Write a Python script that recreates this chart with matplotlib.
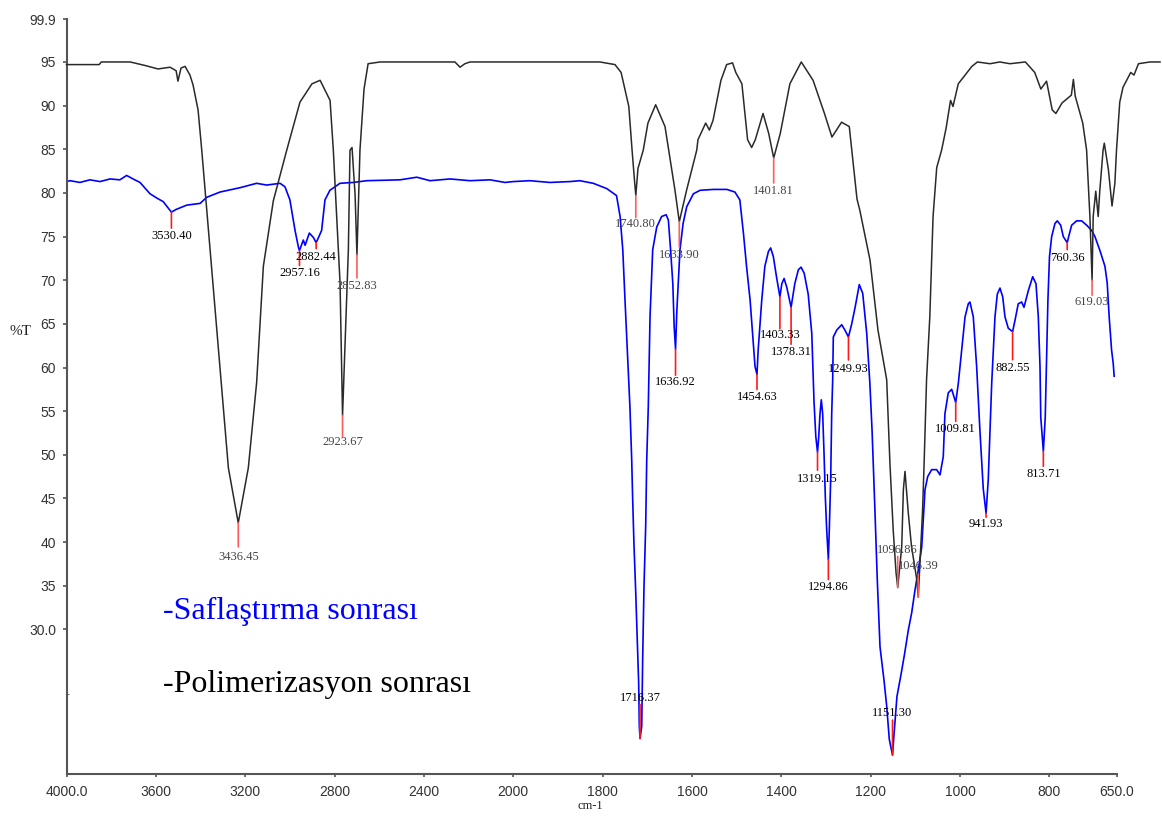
import numpy as np
import matplotlib
matplotlib.use("Agg")
import matplotlib.pyplot as plt

# ---------------- spectra ----------------
# Purified sample (blue): wavenumber (cm-1) and %T
pur_w = [4000, 3984, 3940, 3895, 3850, 3805, 3761, 3731, 3702, 3671, 3626, 3595,
         3567, 3546, 3510, 3462, 3402, 3372, 3313, 3223, 3149, 3104, 3044, 3022,
         3000, 2977, 2962, 2940, 2932, 2913, 2895, 2858, 2843, 2821, 2776, 2716,
         2656, 2507, 2432, 2373, 2283, 2194, 2104, 2037, 2000, 1963, 1918, 1873,
         1851, 1821, 1791, 1769, 1761, 1755, 1750, 1743, 1739, 1735, 1733, 1730,
         1726, 1722.5, 1719.4, 1718, 1712.6, 1710.4, 1707.5, 1703.7, 1701.4, 1697.9,
         1694, 1688, 1679, 1668, 1658, 1653, 1648, 1643, 1640, 1634, 1631, 1627,
         1620, 1612, 1597, 1582, 1552, 1522, 1504, 1493, 1485, 1478, 1470, 1463,
         1459, 1452, 1444, 1437, 1429, 1424, 1418, 1411, 1399, 1394, 1388, 1370,
         1362, 1356, 1349, 1340, 1332, 1327, 1323, 1316.5, 1313.6, 1310.7, 1307.6,
         1304.6, 1301.7, 1298.6, 1292.8, 1289.7, 1287.4, 1285.2, 1283.8, 1276, 1265,
         1258, 1242.6, 1235, 1225.7, 1218, 1209, 1202, 1197, 1190.5, 1185.4, 1179.3,
         1170.4, 1164.3, 1158.5, 1148.8, 1141.4, 1131.7, 1124.3, 1116, 1108.4, 1101,
         1093.6, 1086, 1078.6, 1072.6, 1063.7, 1052.5, 1045, 1037.7, 1034, 1026.5,
         1018.9, 1004, 996.5, 989, 981.7, 978, 970.5, 963, 955.6, 948.2, 937, 933,
         929.3, 922, 916.8, 910.8, 904.7, 899.6, 892.2, 877.2, 869.9, 862.3, 857.1,
         847.4, 837.6, 830.2, 825, 821.2, 819.5, 809.5, 806, 803.5, 800, 795.1, 787.7,
         782.5, 774.9, 769.1, 756, 750.4, 739.2, 728, 716.8, 705.6, 698.3, 687.1,
         675.9, 670.8, 666.4, 661, 657.4, 655.2]
pur_t = [81.3, 81.4, 81.2, 81.5, 81.3, 81.6, 81.5, 82.0, 81.6, 81.2, 79.9, 79.4,
         79.0, 78.3, 78.1, 78.6, 78.8, 79.5, 80.1, 80.6, 81.1, 80.9, 81.1, 80.7,
         79.2, 75.7, 73.8, 74.6, 74.0, 75.4, 74.9, 75.7, 79.2, 80.3, 81.1, 81.2,
         81.4, 81.5, 81.8, 81.4, 81.6, 81.4, 81.5, 81.2, 81.3, 81.4, 81.2, 81.3,
         81.4, 81.1, 80.5, 79.7, 77.3, 73.5, 67.7, 60.1, 55.5, 49.4, 45.2, 39.8,
         34.2, 28.8, 23.8, 18.9, 18.9, 26.9, 34.9, 41.9, 49.4, 55.5,
         65.8, 73.5, 76.1, 77.3, 77.5, 76.9, 73.5, 69.6, 64.7, 66.5, 69.6, 73.5,
         76.5, 78.4, 79.9, 80.3, 80.4, 80.4, 80.1, 79.2, 75.4, 71.6, 67.7, 62.8,
         60.1, 62.0, 67.7, 71.6, 73.3, 73.7, 72.7, 70.4, 69.6, 70.2, 69.2, 69.6,
         71.2, 71.5, 70.8, 68.4, 63.9, 56.1, 52.1, 52.0, 54.7, 56.3, 54.7,
         50.2, 45.2, 41.4, 41.4, 47.2, 54.7, 58.6, 63.5, 64.3, 64.9,
         64.3, 65.0, 66.9, 69.5, 68.5, 63.9, 58.2, 52.7, 43.4, 35.7, 28.0,
         24.2, 21.2, 17.4, 17.4, 22.3, 25.0, 27.2, 29.9, 31.9, 34.5,
         36.8, 39.4, 46.0, 47.5, 48.3, 48.3, 47.7, 49.8, 54.7, 57.1,
         57.5, 58.2, 62.0, 65.8, 67.3, 67.5, 65.8, 60.1, 52.7, 46.1, 47.2, 52.8,
         58.2, 65.8, 68.4, 69.1, 68.1, 65.8, 64.5, 65.4, 67.3, 67.5, 66.9,
         68.8, 70.4, 69.6, 65.8, 60.1, 54.3, 54.3, 62.0, 67.7, 72.7, 75.0, 76.5,
         76.8, 76.3, 75.0, 75.2, 76.3, 76.8, 76.8, 76.3, 75.7, 75.0, 73.4,
         71.6, 69.7, 65.8, 62.0, 60.5, 59.0]

# Purified sample, labelled bands
pur_peak_w = [3530.40, 2957.16, 2882.44, 1716.37, 1636.92, 1454.63, 1403.33, 1378.31,
              1319.15, 1294.86, 1249.93, 1151.30, 1009.81, 941.93, 882.55, 813.71, 760.36]
pur_peak_t = [77.8, 73.4, 74.3, 17.5, 62.1, 59.2, 68.1, 66.9,
              50.3, 38.0, 63.5, 15.6, 56.0, 43.3, 64.1, 50.4, 74.3]

# Polymerised sample (black), on its own wavenumber frame
pol_w = [4281, 4120, 4110, 3968, 3895, 3831, 3772, 3742, 3733, 3718, 3698, 3674,
         3659, 3634, 3616, 3575, 3534, 3485, 3387, 3346, 3313, 3264, 3198, 3133,
         3074, 3034, 2985, 2969, 2936, 2895, 2887, 2877, 2862, 2838, 2818, 2798,
         2739, 2371, 2346, 2322, 2297, 2000, 1829, 1792, 1777, 1758, 1750, 1744,
         1735.5, 1722.5, 1711, 1692, 1669, 1644.5, 1616, 1591, 1588, 1569, 1560,
         1551, 1531.5, 1517.5, 1503, 1495, 1480, 1466, 1456, 1447, 1428, 1414,
         1385.7, 1362, 1334, 1305, 1277, 1258.6, 1235, 1216, 1197, 1190, 1165,
         1145.5, 1124, 1116, 1108, 1101, 1087, 1083, 1079, 1071, 1063, 1050, 1036,
         1032, 1026, 1018, 1010, 1001, 989, 978, 967, 961, 948, 914.5, 901, 870,
         846, 821, 783, 760, 745, 731, 717, 708, 693, 670, 665, 660.5, 642, 632.5,
         624.4, 616.3, 610, 604, 600, 592, 589, 579, 570, 563, 559, 551, 543, 524,
         516, 505, 477, 452]
pol_t = [94.7, 94.7, 95.0, 95.0, 94.6, 94.2, 94.4, 94.0, 92.8, 94.3, 94.5, 93.5,
         92.4, 89.5, 84.9, 73.5, 62.0, 48.5, 48.5, 58.3, 71.6, 79.1, 84.9, 90.4,
         92.5, 92.9, 90.6, 84.9, 69.7, 73.5, 84.9, 85.2, 79.8, 84.9, 91.9, 94.8,
         95.0, 95.0, 94.4, 94.8, 95.0, 95.0, 95.0, 94.7, 93.8, 89.9, 84.9, 81.4,
         82.8, 84.9, 88.0, 90.1, 87.6, 80.3, 80.3, 84.9, 86.1, 88.0, 87.2,
         88.3, 92.9, 94.7, 94.9, 93.8, 92.5, 86.1, 85.2, 86.1, 89.1, 86.8,
         86.8, 92.5, 95.0, 92.9, 89.1, 86.4, 88.1, 87.6, 79.3, 78.0, 72.3,
         64.3, 58.6, 49.0, 41.4, 36.5, 39.5, 46.0, 48.1, 43.4, 39.5, 35.7, 43.4,
         49.0, 58.6, 65.8, 77.3, 82.9, 84.9, 87.4, 90.6, 89.9, 92.5, 94.5, 95.0, 94.8,
         95.0, 94.8, 95.0, 93.8, 91.9, 92.8, 89.5, 89.1, 90.3, 91.2, 93.0, 91.1, 88.0, 84.9,
         77.3, 77.3, 80.2, 77.3, 80.3, 84.9, 85.7, 82.7, 78.5, 81.1, 84.9, 90.4, 92.1, 93.8,
         93.5, 94.8, 95.0, 95.0]

pol_peak_w = [3436.45, 2923.67, 2852.83, 1740.80, 1633.90, 1401.81, 1096.86, 1046.39, 619.03]
pol_peak_t = [42.2, 54.5, 72.9, 79.7, 76.7, 84.0, 34.8, 33.7, 70.0]

# axis ticks
x_ticks = [4000, 3600, 3200, 2800, 2400, 2000, 1800, 1600, 1400, 1200, 1000, 800, 650]
x_tick_labels = ["4000.0", "3600", "3200", "2800", "2400", "2000", "1800", "1600",
                 "1400", "1200", "1000", "800", "650.0"]
y_ticks = [30, 35, 40, 45, 50, 55, 60, 65, 70, 75, 80, 85, 90, 95, 99.9]
y_tick_labels = ["30.0", "35", "40", "45", "50", "55", "60", "65", "70", "75",
                 "80", "85", "90", "95", "99.9"]

legend_pur = "-Saflaştırma sonrası"
legend_pol = "-Polimerizasyon sonrası"

# marker stem length / label offset (pixels below the band; negative = above)
pur_marks = [(16, 24), (15, 22), (6, 14), (-34, -41), (26, 33), (15, 23), (32, 38),
             (37, 45), (18, 27), (20, 27), (23, 32), (-35, -42), (19, 27), (4, 11),
             (28, 36), (15, 23), (7, 15)]
pol_marks = [(24, 34), (21, 26), (23, 31), (22, 28), (25, 33), (25, 33), (-31, -37),
             (-23, -31), (15, 22)]


def fwd(w):
    # spectrometer style x scale: the region below 2000 cm-1 is expanded 2x
    w = np.asarray(w, dtype=float)
    return np.where(w > 2000, 2000 + (w - 2000) / 2.0, w)


def inv(u):
    u = np.asarray(u, dtype=float)
    return np.where(u > 2000, 2000 + (u - 2000) * 2.0, u)


def merged(w, t, pw, pt):
    W = np.concatenate([np.asarray(w, float), np.asarray(pw, float)])
    T = np.concatenate([np.asarray(t, float), np.asarray(pt, float)])
    o = np.argsort(W)[::-1]
    return W[o], T[o]


W_PX, H_PX, DPI = 1162, 821, 100
fig = plt.figure(figsize=(W_PX / DPI, H_PX / DPI), dpi=DPI)
ax = fig.add_axes([66.5 / W_PX, 1 - 773.7 / H_PX, 1050 / W_PX, (773.7 - 19.2) / H_PX])

for ax_ in (ax,):
    ax_.set_xscale("function", functions=(fwd, inv))
ax.set_xlim(4000, 650)
ax.set_ylim(13.47, 99.9)

spine_col = "#555555"
for side in ("top", "right"):
    ax.spines[side].set_visible(False)
for side in ("left", "bottom"):
    ax.spines[side].set_color(spine_col)
    ax.spines[side].set_linewidth(1.5)

ax.set_xticks(x_ticks)
ax.set_xticklabels(x_tick_labels)
ax.set_yticks(y_ticks)
ax.set_yticklabels(y_tick_labels)
ax.set_yticks([22.6], minor=True)
ax.tick_params(axis="y", which="minor", direction="in", length=1.5, color=spine_col)
ax.tick_params(axis="x", which="major", direction="out", length=2.5, width=1.2,
               color=spine_col, pad=5.5)
ax.tick_params(axis="y", which="major", direction="out", length=3, width=1.2,
               color=spine_col, pad=4.5)
ax.xaxis.set_minor_locator(matplotlib.ticker.NullLocator())
for lab in ax.get_xticklabels() + ax.get_yticklabels():
    lab.set_fontfamily("Liberation Sans")
    lab.set_fontsize(10)
    lab.set_color("#333333")

# purified spectrum
pw, pt = merged(pur_w, pur_t, pur_peak_w, pur_peak_t)
ax.plot(pw, pt, color="#0000ff", lw=1.2, zorder=2)

# polymerised spectrum on its own frame
ax2 = ax.twiny()
ax2.set_xscale("function", functions=(fwd, inv))
ax2.set_xlim(4281, 559)
ax2.axis("off")
kw, kt = merged(pol_w, pol_t, pol_peak_w, pol_peak_t)
ax2.plot(kw, kt, color="#2a2a2a", lw=1.1, clip_on=False, zorder=3)

PT = 72.0 / DPI


def mark(axis, w, t, stem, lab, red, txt_col):
    axis.annotate("", xy=(w, t), xytext=(0, -stem * PT), textcoords="offset points",
                  arrowprops=dict(arrowstyle="-", color=red, lw=1.2,
                                  shrinkA=0, shrinkB=0), zorder=4)
    axis.annotate(f"{w:.2f}", xy=(w, t), xytext=(0, -lab * PT),
                  textcoords="offset points", ha="center", va="center",
                  fontsize=9, family="Liberation Serif", color=txt_col, zorder=5)


for w, t, (s, l) in zip(pur_peak_w, pur_peak_t, pur_marks):
    mark(ax, w, t, s, l, "#ff1a1a", "#000000")
for w, t, (s, l) in zip(pol_peak_w, pol_peak_t, pol_marks):
    mark(ax2, w, t, s, l, "#ff5c5c", "#454545")

fig.text(20.5 / W_PX, 1 - 331.7 / H_PX, "%T", family="Liberation Serif",
         fontsize=11, ha="center", va="center", color="#222222")
fig.text(590 / W_PX, 1 - 806 / H_PX, "cm-1", family="Liberation Serif",
         fontsize=9, ha="center", va="center", color="#222222")
fig.text(163 / W_PX, 1 - 619.3 / H_PX, legend_pur, family="Liberation Serif",
         fontsize=23, ha="left", va="baseline", color="#0000ff")
fig.text(163 / W_PX, 1 - 691.7 / H_PX, legend_pol, family="Liberation Serif",
         fontsize=23, ha="left", va="baseline", color="#000000")

fig.savefig("out.png", dpi=DPI)
